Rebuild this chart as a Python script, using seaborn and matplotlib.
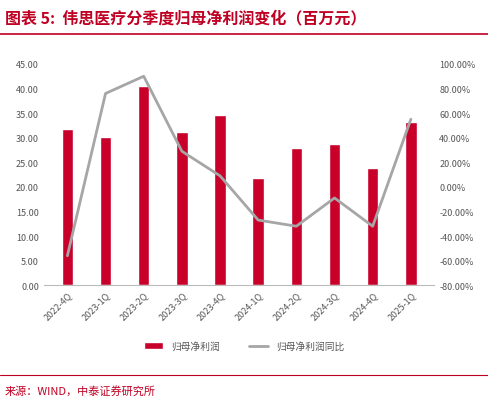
import matplotlib
matplotlib.use('Agg')
import matplotlib.pyplot as plt
import seaborn as sns
import pandas as pd
from matplotlib.ticker import FuncFormatter

quarters = ['2022-4Q', '2023-1Q', '2023-2Q', '2023-3Q', '2023-4Q',
            '2024-1Q', '2024-2Q', '2024-3Q', '2024-4Q', '2025-1Q']
profit = [31.8, 30.1, 40.5, 31.2, 34.6, 21.8, 27.9, 28.7, 23.8, 33.2]
yoy = [-56, 76, 90, 29, 9, -27, -32, -9, -32, 55]

sns.set_style('white')
plt.rcParams['font.family'] = ['Noto Sans CJK SC', 'DejaVu Sans']

df = pd.DataFrame({'q': quarters, 'profit': profit, 'yoy': yoy})

fig = plt.figure(figsize=(4.88, 4.06), dpi=100)
ax = fig.add_axes([0.09, 0.295, 0.80, 0.545])
sns.barplot(data=df, x='q', y='profit', color='#c8002a', saturation=1, width=0.3, ax=ax,
            label='归母净利润')
ax.set_ylim(0, 45)
ax.set_yticks(range(0, 46, 5))
ax.yaxis.set_major_formatter(FuncFormatter(lambda v, p: f'{v:.2f}'))
ax.set_xlabel('')
ax.set_ylabel('')
ax.tick_params(axis='x', labelrotation=45, labelsize=6.5, colors='#555555', length=0)
ax.tick_params(axis='y', labelsize=6.5, colors='#555555', length=0)
for lab in ax.get_xticklabels():
    lab.set_ha('right')
    lab.set_rotation_mode('anchor')
for s in ['top', 'right', 'left']:
    ax.spines[s].set_visible(False)
ax.spines['bottom'].set_color('#bbbbbb')

ax2 = ax.twinx()
sns.lineplot(data=df, x='q', y='yoy', color='#a6a6a6', linewidth=2, ax=ax2,
             label='归母净利润同比', legend=False)
ax2.set_ylim(-80, 100)
ax2.set_yticks(range(-80, 101, 20))
ax2.yaxis.set_major_formatter(FuncFormatter(lambda v, p: f'{v:.2f}%'))
ax2.set_ylabel('')
ax2.tick_params(axis='y', labelsize=6.5, colors='#555555', length=0)
for s in ['top', 'right', 'left', 'bottom']:
    ax2.spines[s].set_visible(False)

h1, l1 = ax.get_legend_handles_labels()
h2, l2 = ax2.get_legend_handles_labels()
if ax.get_legend():
    ax.get_legend().remove()
fig.legend(h1 + h2, l1 + l2, loc='center', bbox_to_anchor=(0.5, 0.145), ncol=2,
           frameon=False, fontsize=7, labelcolor='#555555', columnspacing=3)

fig.text(0.01, 0.955, '图表 5:  伟思医疗分季度归母净利润变化（百万元）', color='#c00023',
         fontsize=11.5, fontweight='bold', style='italic', va='center')
fig.add_artist(plt.Line2D([0.0, 1.0], [0.915, 0.915], color='#c00023', linewidth=1.2))
fig.add_artist(plt.Line2D([0.0, 1.0], [0.075, 0.075], color='#c00023', linewidth=0.8))
fig.text(0.01, 0.035, '来源：WIND，中泰证券研究所', color='#c00023', fontsize=8, va='center')

fig.savefig('out.png', dpi=100)
